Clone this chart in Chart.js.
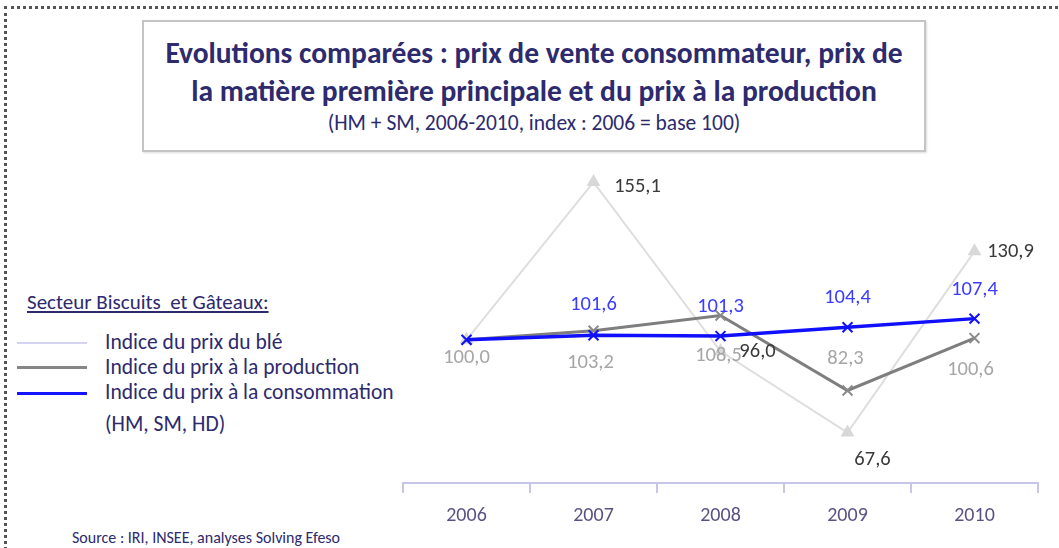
<!DOCTYPE html>
<html>
<head>
<meta charset="utf-8">
<script src="https://cdn.jsdelivr.net/npm/chart.js@4"></script>
<style>
  html, body { margin: 0; padding: 0; background: #fff; }
  body { width: 1059px; height: 548px; position: relative; overflow: hidden; font-family: Carlito, Lato, sans-serif; color: #2d2a6e; }
  .frame { position: absolute; left: 4px; top: 6px; width: 1070px; height: 560px; border-left: 3px dotted #555; border-top: 3px dotted #555; }
  .titlebox { position: absolute; left: 142px; top: 20px; width: 780px; height: 128px; border: 2px solid #c4c4c4; box-shadow: 1px 1px 2px #ddd; text-align: center; }
  .t1 { position: absolute; left: 0; right: 0; top: 12px; font-size: 29.5px; font-weight: bold; line-height: 38px; white-space: nowrap; }
  .t2 { position: absolute; left: 0; right: 0; top: 88px; font-size: 21.5px; white-space: nowrap; }
  .head { position: absolute; left: 27px; top: 289px; font-size: 21px; text-decoration: underline; white-space: nowrap; }
  .item { position: absolute; left: 105px; font-size: 21.5px; white-space: nowrap; }
  .sw { position: absolute; left: 17px; width: 70px; }
  .src { position: absolute; left: 72px; top: 528px; font-size: 16px; white-space: nowrap; }
  #chart { position: absolute; left: 380px; top: 150px; }
</style>
</head>
<body>
<div class="frame"></div>
<div class="titlebox">
  <div class="t1">Evolutions comparées : prix de vente consommateur, prix de<br>la matière première principale et du prix à la production</div>
  <div class="t2">(HM + SM, 2006-2010, index : 2006 = base 100)</div>
</div>
<div class="head">Secteur Biscuits&nbsp; et Gâteaux:</div>
<div class="sw" style="top:342px;border-top:2px solid #d4d4f2"></div>
<div class="item" style="top:329px">Indice du prix du blé</div>
<div class="sw" style="top:366px;border-top:3px solid #858585"></div>
<div class="item" style="top:354px">Indice du prix à la production</div>
<div class="sw" style="top:392px;border-top:3px solid #1414ff"></div>
<div class="item" style="top:379px">Indice du prix à la consommation</div>
<div class="item" style="top:411px">(HM, SM, HD)</div>
<div class="src">Source : IRI, INSEE, analyses Solving Efeso</div>
<canvas id="chart" width="679" height="398"></canvas>
<script>
const years = ["2006", "2007", "2008", "2009", "2010"];
const ble = [100.0, 155.1, 96.0, 67.6, 130.9];
const production = [100.0, 103.2, 108.5, 82.3, 100.6];
const consommation = [100.0, 101.6, 101.3, 104.4, 107.4];

// label placement per dataset: [dx, dy] from the point, null = no label
const labelSpots = [
  { color: "#3a3a3a", at: [null, [44, 5], [37, 1], [25, 27], [36, 1]] },
  { color: "#a6a6a6", at: [[0, 18], [-3, 32], [-2, 40], [-2, -32], [-4, 32]] },
  { color: "#3c3cff", at: [null, [0, -30], [0, -29], [0, -29], [0, -29]] }
];

const fmt = (v) => v.toFixed(1).replace(".", ",");

const valueLabels = {
  id: "valueLabels",
  afterDatasetsDraw(chart) {
    const ctx = chart.ctx;
    ctx.save();
    ctx.font = "20.5px Carlito, Lato, sans-serif";
    ctx.textAlign = "center";
    ctx.textBaseline = "middle";
    chart.data.datasets.forEach((ds, i) => {
      const meta = chart.getDatasetMeta(i);
      const spot = labelSpots[i];
      meta.data.forEach((pt, j) => {
        const off = spot.at[j];
        if (!off) return;
        ctx.fillStyle = spot.color;
        ctx.fillText(fmt(ds.data[j]), pt.x + off[0], pt.y + off[1]);
      });
    });
    ctx.restore();
  }
};

new Chart(document.getElementById("chart"), {
  type: "line",
  data: {
    labels: years,
    datasets: [
      {
        label: "Indice du prix du blé",
        data: ble,
        borderColor: "#dedede",
        borderWidth: 2,
        pointStyle: "triangle",
        pointRadius: 6,
        pointBackgroundColor: "#d8d8d8",
        pointBorderColor: "#d8d8d8",
        order: 3
      },
      {
        label: "Indice du prix à la production",
        data: production,
        borderColor: "#7e7e7e",
        borderWidth: 3,
        pointStyle: "crossRot",
        pointRadius: 7,
        pointBorderWidth: 2,
        pointBorderColor: "#8a8a8a",
        order: 2
      },
      {
        label: "Indice du prix à la consommation",
        data: consommation,
        borderColor: "#1010ff",
        borderWidth: 3.5,
        pointStyle: "crossRot",
        pointRadius: 7,
        pointBorderWidth: 2,
        pointBorderColor: "#1010ff",
        order: 1
      }
    ]
  },
  options: {
    responsive: false,
    animation: false,
    layout: { padding: { top: 18, left: 23, right: 21, bottom: 15 } },
    plugins: { legend: { display: false }, tooltip: { enabled: false } },
    scales: {
      y: { display: false, min: 50, max: 160 },
      x: {
        offset: true,
        afterFit: (axis) => { axis.height = 50; },
        grid: { offset: true, drawOnChartArea: false, drawTicks: true, tickLength: 10, color: "#c6c6e6", lineWidth: 2 },
        border: { display: true, color: "#c6c6e6", width: 2 },
        ticks: { color: "#5a5285", padding: 11, font: { size: 20, family: "Carlito, Lato, sans-serif" } }
      }
    }
  },
  plugins: [valueLabels]
});
</script>
</body>
</html>
